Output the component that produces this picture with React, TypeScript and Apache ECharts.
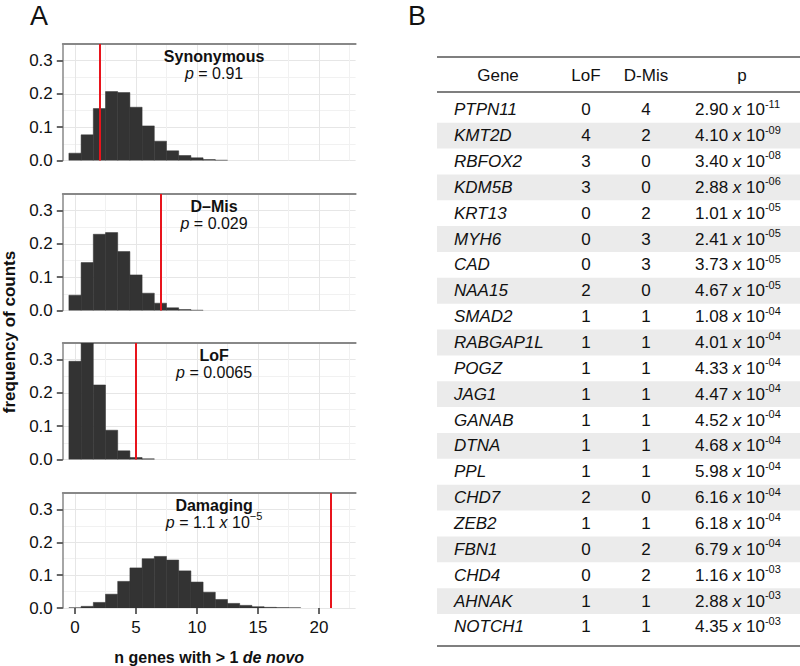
import React, { useEffect, useRef } from "react";
import * as echarts from "echarts";

const FONT = "'Liberation Sans', Arial, Helvetica, sans-serif";

// ---------------- Panel A data ----------------
const panelNames = ["Synonymous", "D\u2013Mis", "LoF", "Damaging"];
const pValueMain = ["0.91", "0.029", "0.0065", "1.1"];
const pValueExp = ["", "", "", "\u22125"];
const observedCounts = [2, 7, 5, 21];

const synonymousFreq = [0.022, 0.077, 0.156, 0.207, 0.204, 0.16, 0.104, 0.058, 0.029, 0.015, 0.008, 0.003, 0.001];
const dMisFreq = [0.046, 0.144, 0.229, 0.234, 0.177, 0.107, 0.052, 0.022, 0.008, 0.003, 0.001];
const lofFreq = [0.295, 0.35, 0.224, 0.088, 0.026, 0.006, 0.002];
const damagingFreq = [0.0005, 0.005, 0.017, 0.042, 0.081, 0.122, 0.15, 0.157, 0.146, 0.113, 0.079, 0.048, 0.026, 0.014, 0.008, 0.004, 0.002, 0.001, 0.0005];
const panelFreqs = [synonymousFreq, dMisFreq, lofFreq, damagingFreq];

const xTickValues = [0, 5, 10, 15, 20];
const xGridValues = [0, 2.5, 5, 7.5, 10, 12.5, 15, 17.5, 20, 22.5];
const yTickValues = [0, 0.1, 0.2, 0.3];

// ---------------- Panel B data ----------------
const tableHeaders = ["Gene", "LoF", "D-Mis", "p"];
const genes = ["PTPN11", "KMT2D", "RBFOX2", "KDM5B", "KRT13", "MYH6", "CAD", "NAA15", "SMAD2", "RABGAP1L", "POGZ", "JAG1", "GANAB", "DTNA", "PPL", "CHD7", "ZEB2", "FBN1", "CHD4", "AHNAK", "NOTCH1"];
const lofCounts = [0, 4, 3, 3, 0, 0, 0, 2, 1, 1, 1, 1, 1, 1, 1, 2, 1, 0, 0, 1, 1];
const dMisCounts = [4, 2, 0, 0, 2, 3, 3, 0, 1, 1, 1, 1, 1, 1, 1, 0, 1, 2, 2, 1, 1];
const pMantissa = ["2.90", "4.10", "3.40", "2.88", "1.01", "2.41", "3.73", "4.67", "1.08", "4.01", "4.33", "4.47", "4.52", "4.68", "5.98", "6.16", "6.18", "6.79", "1.16", "2.88", "4.35"];
const pExponent = ["-11", "-09", "-08", "-06", "-05", "-05", "-05", "-05", "-04", "-04", "-04", "-04", "-04", "-04", "-04", "-04", "-04", "-04", "-03", "-03", "-03"];

// ---------------- layout ----------------
const PANEL_TOPS = [44, 194, 343, 493];
const PANEL_H = 116.5;
const GRID_LEFT = 62.8;
const GRID_W = 292.8;
const X_MIN = -1;
const X_MAX = 23;
const Y_MAX = 0.35;
const ANNOT_X = 11.4;
const ANNOT_Y = 0.287;

const TABLE_LEFT = 437;
const TABLE_RIGHT = 800;
const TOP_RULE = 57;
const HEADER_Y = 75;
const HEADER_RULE = 92;
const ROW0 = 96.8;
const ROW_H = 25.86;
const BOTTOM_RULE = 646;
const HEADER_X = [498, 586, 646, 742];
const GENE_X = 454;
const LOF_X = 586;
const DMIS_X = 646;
const P_X = 695;

const TXT = "#111";

function annotationText(i: number) {
  let s = `{t|${panelNames[i]}}\n{i|p}{n| = ${pValueMain[i]}}`;
  if (pValueExp[i]) s = `{t|${panelNames[i]}}\n{i|p}{n| = ${pValueMain[i]} }{i|x}{n| 10}{s|${pValueExp[i]}}`;
  return s;
}

const annotRich = {
  t: { fontFamily: FONT, fontSize: 16, fontWeight: "bold", color: TXT, lineHeight: 17 },
  i: { fontFamily: FONT, fontSize: 16, fontStyle: "italic", color: TXT, lineHeight: 17 },
  n: { fontFamily: FONT, fontSize: 16, color: TXT, lineHeight: 17 },
  s: { fontFamily: FONT, fontSize: 11, color: TXT, lineHeight: 17, padding: [0, 0, 12, 0] },
};

function buildOption() {
  const grid: any[] = [];
  const xAxis: any[] = [];
  const yAxis: any[] = [];
  const series: any[] = [];

  panelFreqs.forEach((freqs, i) => {
    const last = i === panelFreqs.length - 1;
    grid.push({ left: GRID_LEFT, width: GRID_W, top: PANEL_TOPS[i], height: PANEL_H, containLabel: false });

    xAxis.push({
      type: "value", gridIndex: i, min: X_MIN, max: X_MAX, position: "bottom",
      axisLine: { show: false, onZero: false },
      axisTick: { show: last, customValues: xTickValues, length: 6, lineStyle: { color: "#333", width: 1.5 } },
      axisLabel: { show: last, customValues: xTickValues, fontFamily: FONT, fontSize: 17, color: TXT, margin: 11 },
      splitLine: { show: false },
      name: last ? "n genes with > 1 {i|de novo}" : "",
      nameLocation: "middle",
      nameGap: 41,
      nameTextStyle: {
        fontFamily: FONT, fontSize: 16, fontWeight: "bold", color: TXT,
        rich: { i: { fontFamily: FONT, fontSize: 16, fontWeight: "bold", fontStyle: "italic", color: TXT } },
      },
    });
    xAxis.push({
      type: "value", gridIndex: i, min: X_MIN, max: X_MAX, position: "top",
      axisLine: { show: true, onZero: false, lineStyle: { color: "#888", width: 2 } },
      axisTick: { show: false, customValues: xGridValues },
      axisLabel: { show: false },
      splitLine: { show: true, lineStyle: { color: ["#e6e6e6", "#f1f1f1"], width: 1 } },
    });

    yAxis.push({
      type: "value", gridIndex: i, min: 0, max: Y_MAX, position: "left",
      axisLine: { show: true, onZero: false, lineStyle: { color: "#888", width: 1.5 } },
      axisTick: { show: true, customValues: yTickValues, length: 6, lineStyle: { color: "#333", width: 1.5 } },
      axisLabel: { show: true, customValues: yTickValues, formatter: (v: number) => v.toFixed(1), fontFamily: FONT, fontSize: 17, color: TXT, margin: 10 },
      splitLine: { show: false },
    });
    yAxis.push({
      type: "value", gridIndex: i, min: 0, max: Y_MAX, interval: 0.05, position: "right",
      axisLine: { show: false, onZero: false },
      axisTick: { show: false },
      axisLabel: { show: false },
      splitLine: { show: true, lineStyle: { color: ["#e6e6e6", "#f1f1f1"], width: 1 } },
    });

    series.push({
      type: "custom",
      xAxisIndex: 2 * i,
      yAxisIndex: 2 * i,
      clip: true,
      data: freqs.map((f, k) => [k, f]),
      encode: { x: 0, y: 1 },
      renderItem: (params: any, api: any) => {
        const x = api.value(0);
        const y = api.value(1);
        const p0 = api.coord([x - 0.5, y]);
        const p1 = api.coord([x + 0.5, 0]);
        return {
          type: "rect",
          shape: { x: p0[0], y: p0[1], width: p1[0] - p0[0], height: p1[1] - p0[1] },
          style: { fill: "#333333", stroke: "#333333", lineWidth: 0.5 },
        };
      },
      z: 2,
    });

    series.push({
      type: "line",
      xAxisIndex: 2 * i,
      yAxisIndex: 2 * i,
      data: [],
      silent: true,
      z: 5,
      markLine: {
        silent: true,
        symbol: ["none", "none"],
        label: { show: false },
        lineStyle: { color: "#e8141c", width: 2, type: "solid" },
        data: [{ xAxis: observedCounts[i] }],
      },
      markPoint: {
        silent: true,
        symbol: "circle",
        symbolSize: 1,
        itemStyle: { color: "rgba(0,0,0,0)" },
        label: { show: true, position: "inside", formatter: annotationText(i), rich: annotRich, color: TXT },
        data: [{ coord: [ANNOT_X, ANNOT_Y] }],
      },
    });
  });

  // ---------- labels and table graphics ----------
  const g: any[] = [];
  g.push({ type: "text", x: 30, y: 2, z: 10, style: { text: "A", fontFamily: FONT, fontSize: 27, fill: TXT } });
  g.push({ type: "text", x: 408, y: 2, z: 10, style: { text: "B", fontFamily: FONT, fontSize: 27, fill: TXT } });
  g.push({
    type: "text", x: 9, y: 332, rotation: Math.PI / 2, z: 10,
    style: { text: "frequency of counts", fontFamily: FONT, fontSize: 17, fontWeight: "bold", fill: TXT, textAlign: "center", textVerticalAlign: "middle" },
  });

  genes.forEach((gene, r) => {
    const top = ROW0 + r * ROW_H;
    const cy = top + ROW_H / 2;
    if (r % 2 === 1) {
      g.push({ type: "rect", z: 1, shape: { x: TABLE_LEFT, y: top, width: TABLE_RIGHT - TABLE_LEFT, height: ROW_H }, style: { fill: "#ebebeb" } });
    }
    g.push({ type: "text", x: GENE_X, y: cy, z: 10, style: { text: gene, fontFamily: FONT, fontSize: 17, fontStyle: "italic", fill: TXT, textAlign: "left", textVerticalAlign: "middle" } });
    g.push({ type: "text", x: LOF_X, y: cy, z: 10, style: { text: String(lofCounts[r]), fontFamily: FONT, fontSize: 17, fill: TXT, textAlign: "center", textVerticalAlign: "middle" } });
    g.push({ type: "text", x: DMIS_X, y: cy, z: 10, style: { text: String(dMisCounts[r]), fontFamily: FONT, fontSize: 17, fill: TXT, textAlign: "center", textVerticalAlign: "middle" } });
    g.push({
      type: "text", x: P_X, y: cy, z: 10,
      style: {
        text: `{n|${pMantissa[r]} }{x|x}{n| 10}{s|${pExponent[r]}}`,
        textAlign: "left", textVerticalAlign: "middle",
        rich: {
          n: { fontFamily: FONT, fontSize: 17, fill: TXT },
          x: { fontFamily: FONT, fontSize: 17, fontStyle: "italic", fill: TXT },
          s: { fontFamily: FONT, fontSize: 11, fill: TXT, padding: [0, 0, 12, 0] },
        },
      },
    });
  });

  tableHeaders.forEach((h, c) => {
    g.push({ type: "text", x: HEADER_X[c], y: HEADER_Y, z: 10, style: { text: h, fontFamily: FONT, fontSize: 17, fill: TXT, textAlign: "center", textVerticalAlign: "middle" } });
  });

  [TOP_RULE, HEADER_RULE, BOTTOM_RULE].forEach((y) => {
    g.push({ type: "line", z: 5, shape: { x1: TABLE_LEFT, y1: y, x2: TABLE_RIGHT, y2: y }, style: { stroke: "#555", lineWidth: 1.6 } });
  });

  return {
    animation: false,
    backgroundColor: "#ffffff",
    textStyle: { fontFamily: FONT },
    grid,
    xAxis,
    yAxis,
    series,
    graphic: { elements: g },
  };
}

export default function App() {
  const ref = useRef<HTMLDivElement>(null);
  useEffect(() => {
    if (!ref.current) return;
    const chart = echarts.init(ref.current, null, { renderer: "svg" });
    chart.setOption(buildOption() as any);
    return () => chart.dispose();
  }, []);
  return <div ref={ref} style={{ position: "absolute", left: 0, top: 0, width: 800, height: 666 }} />;
}
